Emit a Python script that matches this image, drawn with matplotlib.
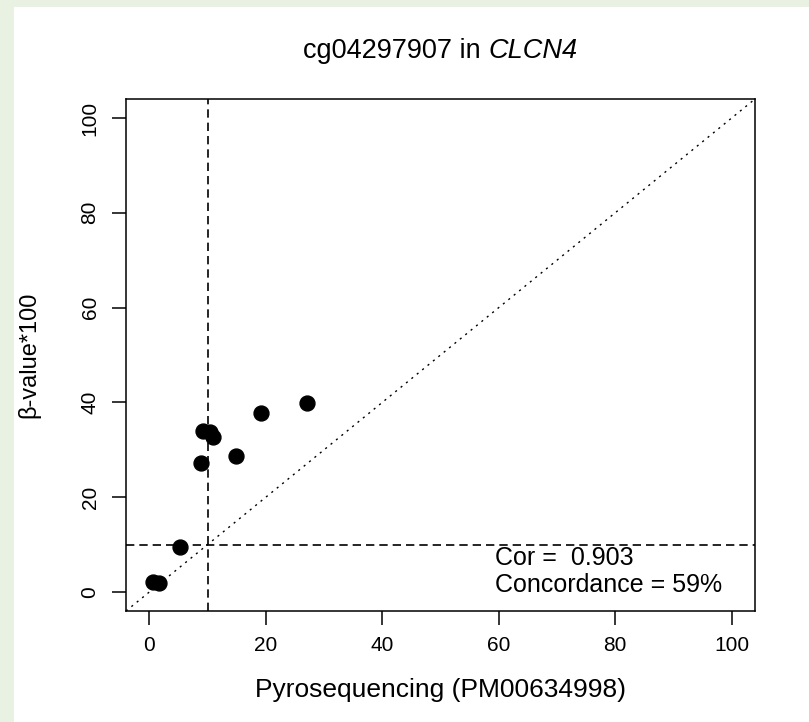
import matplotlib
matplotlib.use("Agg")
import matplotlib.pyplot as plt
from matplotlib.patches import Rectangle

# Pyrosequencing vs array beta values
pyro = [0.7, 1.7, 5.2, 8.8, 9.3, 10.4, 10.9, 14.9, 19.2, 27.0]
beta = [2.2, 2.0, 9.6, 27.3, 34.0, 33.8, 32.8, 28.8, 37.8, 39.8]
ticks = [0, 20, 40, 60, 80, 100]
cutoff = 10
stats_lines = ["Cor =  0.903", "Concordance = 59%"]

plt.rcParams['font.family'] = ['Liberation Sans', 'DejaVu Sans']

fig = plt.figure(figsize=(8.09, 7.22), dpi=100)
fig.patch.set_facecolor('#e9f1e2')
# white slide area
fig.patches.append(Rectangle((14 / 809, 0), 1, 1 - 7 / 722, transform=fig.transFigure,
                             facecolor='white', edgecolor='none', zorder=-10))

ax = fig.add_axes([126 / 809, 111 / 722, 629 / 809, 512 / 722])
ax.set_zorder(5)
ax.set_facecolor('white')
ax.set_xlim(-4, 104)
ax.set_ylim(-4, 104)

# reference lines
ax.axline((0, 0), slope=1, color='black', lw=1.0, dashes=(1.5, 3.5))
ax.axvline(cutoff, color='black', lw=1.2, dashes=(5, 3))
ax.axhline(cutoff, color='black', lw=1.2, dashes=(5, 3))

ax.scatter(pyro, beta, s=115, color='black', edgecolors='black', zorder=3)

for i, line in enumerate(stats_lines):
    ax.text(59.4, 7.2 - i * 5.7, line, fontsize=18, va='center', ha='left')

ax.set_xticks(ticks)
ax.set_yticks(ticks)
ax.tick_params(axis='both', direction='out', length=10, width=1.1, labelsize=15)
ax.tick_params(axis='x', pad=8)
ax.tick_params(axis='y', pad=9)
for lab in ax.get_yticklabels():
    lab.set_rotation(90)
    lab.set_va('center')
for sp in ax.spines.values():
    sp.set_linewidth(1.1)

ax.set_xlabel('Pyrosequencing (PM00634998)', fontsize=19, va='center')
ax.xaxis.set_label_coords(0.5, -0.154)
ax.set_ylabel('β-value*100', fontsize=17, va='center')
ax.yaxis.set_label_coords(-0.155, 0.5)

# title: plain part + italic gene name, centred together
ty = 1 - 58 / 722
t1 = fig.text(0, ty, 'cg04297907 in ', fontsize=19.5, ha='left', va='baseline')
t2 = fig.text(0, ty, 'CLCN4', fontsize=19.5, style='italic', ha='left', va='baseline')
r = fig.canvas.get_renderer()
w1 = t1.get_window_extent(r).width
w2 = t2.get_window_extent(r).width
x0 = 440.5 - (w1 + w2) / 2
t1.set_x(x0 / 809)
t2.set_x((x0 + w1) / 809)

fig.savefig('out.png', dpi=100, facecolor=fig.get_facecolor())
